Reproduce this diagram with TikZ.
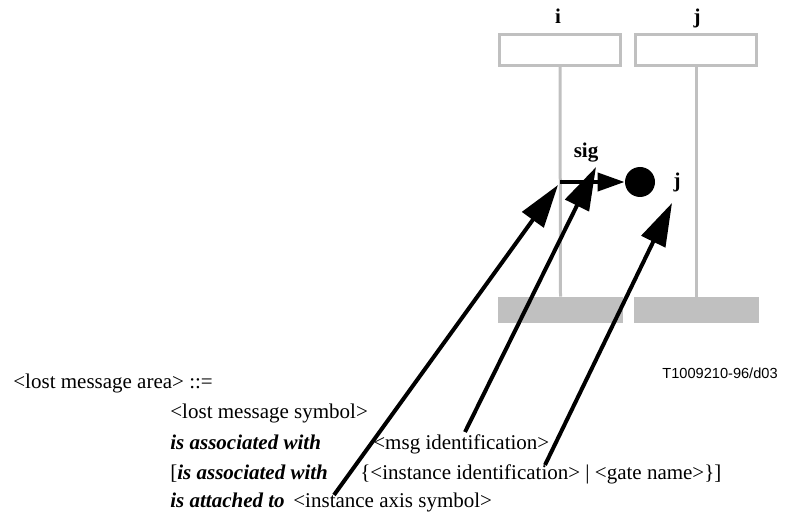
\documentclass[tikz,border=0pt]{standalone}
\usepackage{fontspec}
\setmainfont{Liberation Serif}
\newfontfamily\figfont{Liberation Sans}
\usetikzlibrary{arrows.meta}
\definecolor{axisgray}{RGB}{192,192,192}

\begin{document}
\begin{tikzpicture}[x=0.5pt, y=-0.5pt,
  headbox/.style={draw=axisgray, line width=1.5pt, minimum width=60.5pt, minimum height=15.5pt, inner sep=0pt},
  footbar/.style={fill=axisgray, minimum width=62.5pt, minimum height=13pt, inner sep=0pt},
  axisline/.style={draw=axisgray, line width=1.5pt},
  pointer/.style={line width=2pt, -{Triangle[length=21.5pt,width=13pt]}},
  txt/.style={anchor=base west, inner sep=0pt, font=\fontsize{10.5pt}{12pt}\selectfont},
  kw/.style={txt, font=\fontsize{10.5pt}{12pt}\selectfont\bfseries\itshape},
  lbl/.style={anchor=base, inner sep=0pt, font=\fontsize{10.5pt}{12pt}\selectfont\bfseries}
]
\useasboundingbox (0,0) rectangle (787,513);

% instances i and j
\node[headbox] (ihead) at (560,50) {};
\node[headbox] (jhead) at (696,50) {};
\node[footbar] (ifoot) at (560.5,310) {};
\node[footbar] (jfoot) at (696,310) {};
\draw[axisline] (ihead.south) -- (ifoot.north);
\draw[axisline] (jhead.south) -- (jfoot.north);
\node[lbl] (iname) at (558,24) {i};
\node[lbl] (jname) at (697,24) {j};

% lost message
\node[circle, fill, inner sep=0pt, minimum size=15pt] (lost) at (640,182) {};
\coordinate (msgstart) at (560,182);
\draw[line width=2pt, -{Triangle[length=13.5pt,width=9pt]}] (msgstart) -- (lost);
\node[lbl] (sig) at (586,158) {sig};
\node[lbl] (gate) at (677,188) {j};

% grammar text
\node[txt] (area) at (13,388) {<lost message area> ::=};
\node[txt] (symbol) at (170,418) {<lost message symbol>};
\node[kw] (assoc) at (170,449) {is associated with};
\node[txt] (msgid) at (373,449) {<msg identification>};
\node[txt] (bracket) at (170,479) {[\textbf{\textit{is associated with}}};
\node[txt] (target) at (360,479) {\{<instance identification> | <gate name>\}]};
\node[kw] (attach) at (170,507) {is attached to};
\node[txt] (axis) at (293,507) {<instance axis symbol>};
\node[anchor=base west, inner sep=0pt, font=\figfont\fontsize{7.3pt}{9pt}\selectfont] (tnum) at (662,378) {T1009210-96/d03};

% pointers from text to symbols
\coordinate (tipaxis) at (558,185);
\coordinate (tipsig) at (596,167);
\coordinate (tipgate) at (672,203);
\coordinate (tailaxis) at (334,495);
\coordinate (tailmsg) at (465,432);
\coordinate (tailgate) at (545,465);
\draw[pointer] (tailaxis) -- (tipaxis);
\draw[pointer] (tailmsg) -- (tipsig);
\draw[pointer] (tailgate) -- (tipgate);
\end{tikzpicture}
\end{document}
